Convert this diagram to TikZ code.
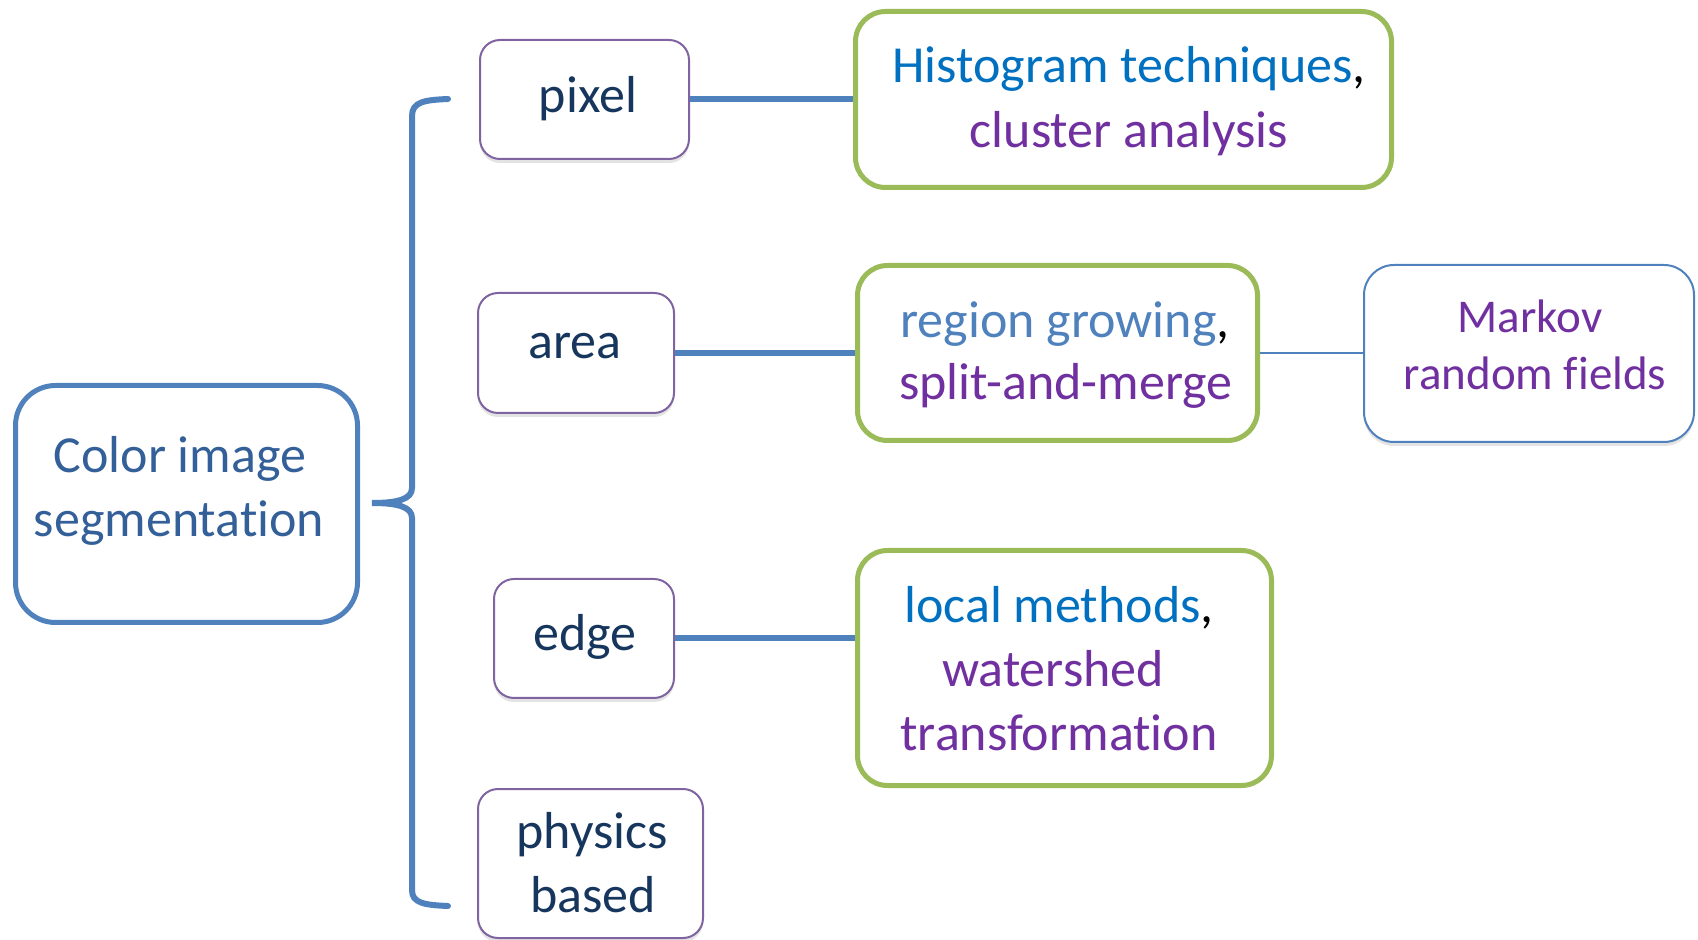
\documentclass[tikz,border=0pt]{standalone}
\usepackage{fontspec}
\setmainfont{Carlito}[Ligatures=NoCommon]
\usetikzlibrary{shadows}
\definecolor{bline}{HTML}{4F81BD}
\definecolor{maintxt}{HTML}{34609A}
\definecolor{pborder}{HTML}{8064A2}
\definecolor{navy}{HTML}{17365D}
\definecolor{gborder}{HTML}{9BBB59}
\definecolor{tblue}{HTML}{0070C0}
\definecolor{tpurple}{HTML}{7030A0}
\tikzset{
  mainbox/.style={draw=bline, line width=2.5pt, rounded corners=20pt, fill=white, inner sep=0pt},
  smallbox/.style={draw=pborder, line width=1pt, rounded corners=10pt, fill=white, inner sep=0pt,
     drop shadow={shadow xshift=0pt, shadow yshift=-2pt, opacity=0.18, fill=black!60}},
  greenbox/.style={draw=gborder, line width=2.5pt, rounded corners=15pt, fill=white, inner sep=0pt},
  markovbox/.style={draw=bline, line width=1pt, rounded corners=15pt, fill=white, inner sep=0pt,
     drop shadow={shadow xshift=0pt, shadow yshift=-2pt, opacity=0.18, fill=black!60}},
  txt/.style={anchor=base, inner sep=0pt, font=\fontsize{26pt}{30pt}\selectfont},
  mtxt/.style={anchor=base, inner sep=0pt, font=\fontsize{23.5pt}{28pt}\selectfont},
  conn/.style={draw=bline, line width=3pt},
  thinconn/.style={draw=bline, line width=0.75pt},
}
\begin{document}
\begin{tikzpicture}[x=0.5pt, y=-0.5pt]
\useasboundingbox (0,0) rectangle (1698,940);
% main box
\node[mainbox, minimum width=171pt, minimum height=118.5pt] (main) at (186.5,504) {};
\node[txt, text=maintxt] (main1) at (180,473) {Color image};
\node[txt, text=maintxt] (main2) at (179,537) {segmentation};
% brace
\coordinate (btop) at (448,99);
\coordinate (btip) at (372,503);
\coordinate (bbot) at (448,906);
\draw[draw=bline, line width=3pt, line cap=round]
  (btop) .. controls (424,100) and (412,102) .. (412,116) -- (412,488)
  .. controls (412,499) and (398,503) .. (btip)
  .. controls (398,503) and (412,507) .. (412,518) -- (412,890)
  .. controls (412,903) and (424,905) .. (bbot);
% small boxes
\node[smallbox, minimum width=104.5pt, minimum height=59.5pt] (pixel) at (584.5,99.5) {};
\node[txt, text=navy] (pixelt) at (588,113) {pixel};
\node[smallbox, minimum width=98pt, minimum height=60pt] (area) at (576,353) {};
\node[txt, text=navy] (areat) at (575,359) {area};
\node[smallbox, minimum width=90pt, minimum height=59.5pt] (edge) at (584,638.5) {};
\node[txt, text=navy] (edget) at (585,651) {edge};
\node[smallbox, minimum width=112.5pt, minimum height=74.5pt] (phys) at (590.5,863.5) {};
\node[txt, text=navy] (phys1) at (592,848) {physics};
\node[txt, text=navy] (phys2) at (593,912) {based};
% green boxes
\node[greenbox, minimum width=268pt, minimum height=88pt] (hist) at (1123.5,99.5) {};
\node[txt] (hist1) at (1129,83) {\textcolor{tblue}{Histogram techniques},};
\node[txt, text=tpurple] (hist2) at (1129,148) {cluster analysis};
\node[greenbox, minimum width=200pt, minimum height=87.5pt] (region) at (1057.5,353) {};
\node[txt] (region1) at (1065,338) {\textcolor{bline}{region growing},};
\node[txt, text=tpurple] (region2) at (1066,400) {split-and-merge};
\node[greenbox, minimum width=207pt, minimum height=117.5pt] (local) at (1064.5,668) {};
\node[txt] (local1) at (1059,623) {\textcolor{tblue}{local methods},};
\node[txt, text=tpurple] (local2) at (1053,687) {watershed};
\node[txt, text=tpurple] (local3) at (1059,750) {transformation};
% markov
\node[markovbox, minimum width=165pt, minimum height=88.5pt] (markov) at (1529,353.5) {};
\node[mtxt, text=tpurple] (markov1) at (1530,333) {Markov};
\node[mtxt, text=tpurple] (markov2) at (1535,390) {random fields};
% connectors
\draw[conn] (pixel.east) -- (pixel.east -| hist.west);
\draw[conn] (area.east) -- (area.east -| region.west);
\draw[conn] (edge.east) -- (edge.east -| local.west);
\draw[thinconn] (region.east) -- (region.east -| markov.west);
\end{tikzpicture}
\end{document}
